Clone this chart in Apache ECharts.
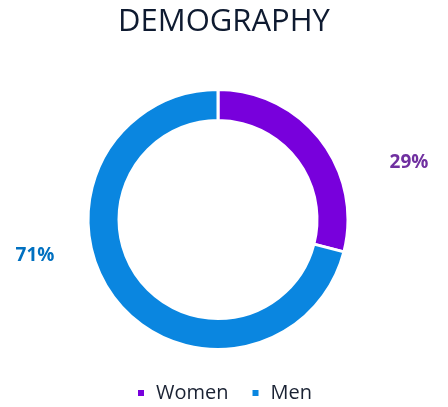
<!DOCTYPE html>
<html><head><meta charset="utf-8">
<script src="https://cdn.jsdelivr.net/npm/echarts@6/dist/echarts.min.js"></script>
<style>html,body{margin:0;padding:0;background:#fff}#c{width:448px;height:407px}</style>
</head><body><div id="c"></div>
<script>
const categories = ['Women', 'Men'];
const values = [29, 71];
const colors = ['#7800DC', '#0A86E0'];
const labelColors = ['#7030A0', '#0070C0'];

const chart = echarts.init(document.getElementById('c'), null, {renderer: 'canvas'});
chart.setOption({
  animation: false,
  title: {
    text: 'DEMOGRAPHY', left: 'center', top: 2,
    textStyle: {fontFamily: 'Open Sans', fontWeight: 'normal', fontSize: 31, color: '#0E1A30'}
  },
  legend: {
    bottom: -1, left: 'center', itemWidth: 8, itemHeight: 8, itemGap: 22, icon: 'rect',
    textStyle: {fontFamily: 'Open Sans', fontSize: 20, color: '#1A2233', padding: [0, 0, 0, 6]},
    data: categories
  },
  series: [{
    type: 'pie', center: [218, 219.5], radius: [99, 130], startAngle: 90,
    itemStyle: {borderColor: '#fff', borderWidth: 3},
    labelLine: {show: false},
    label: {
      show: true, position: 'outside',
      formatter: p => p.value + '%',
      fontFamily: 'Open Sans', fontWeight: 'bold', fontSize: 19
    },
    labelLayout: p => p.dataIndex === 0
      ? {x: 409, y: 163, align: 'center', verticalAlign: 'middle'}
      : {x: 35, y: 256, align: 'center', verticalAlign: 'middle'},
    data: categories.map((n, i) => ({
      name: n, value: values[i],
      itemStyle: {color: colors[i]},
      label: {color: labelColors[i]}
    }))
  }]
});
</script></body></html>
